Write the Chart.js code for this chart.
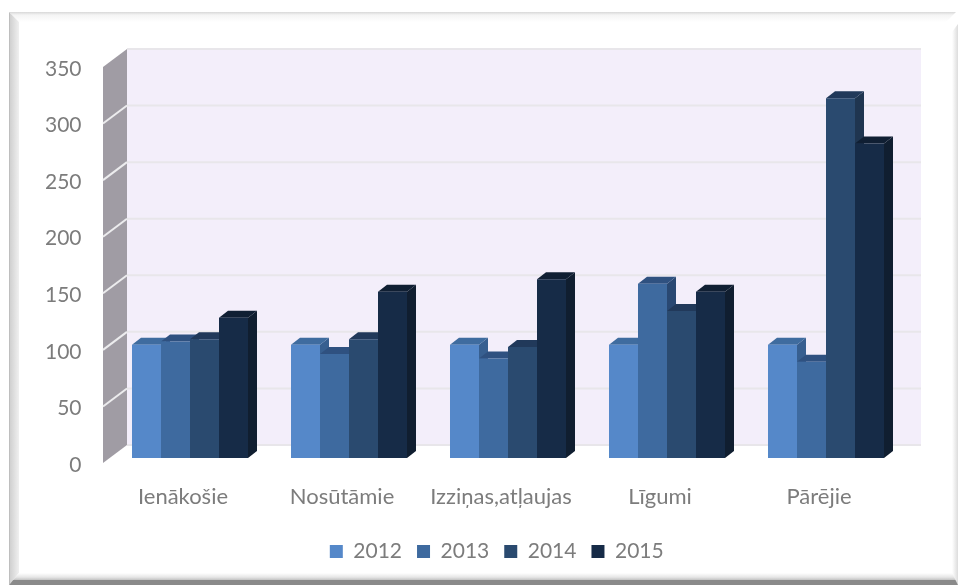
<!DOCTYPE html>
<html>
<head>
<meta charset="utf-8">
<title>Dokumenti</title>
<script src="https://cdn.jsdelivr.net/npm/chart.js@4"></script>
<style>
  html, body { margin: 0; padding: 0; background: #fff; }
  #wrap { position: relative; width: 958px; height: 585px; overflow: hidden; }
  #wrap canvas { position: absolute; left: 0; top: 0; filter: blur(0.7px); }
  .edge { position: absolute; }
  .top { left: 9px; right: 2px; top: 12px; height: 10px; background: linear-gradient(#d8d8d8, #f4f4f4 30%, #fff); clip-path: polygon(0 0, 100% 0, calc(100% - 10px) 100%, 10px 100%); }
  .left { left: 9px; top: 12px; bottom: 0; width: 10px; background: linear-gradient(90deg, #b4b4b4, #d2d2d2 15%, #f0f0f0); clip-path: polygon(0 0, 100% 10px, 100% calc(100% - 12px), 0 100%); }
  .right { right: 0; top: 24px; bottom: 0; width: 6px; background: linear-gradient(90deg, #fff, #eaeaea 60%, #dcdcdc); clip-path: polygon(0 8px, 100% 0, 100% 100%, 0 calc(100% - 10px)); }
  .bottom { left: 9px; right: 0; bottom: 0; height: 12px; background: linear-gradient(#fff, #e6e6e6 35%, #c8c8c8 55%, #8a8a8a 58%, #8a8a8a); clip-path: polygon(10px 0, calc(100% - 6px) 0, 100% 100%, 0 100%); }
</style>
</head>
<body>
<div id="wrap">
  <div class="edge top"></div>
  <div class="edge left"></div>
  <div class="edge right"></div>
  <div class="edge bottom"></div>
  <canvas id="chart" width="958" height="585"></canvas>
</div>
<script>
const categories = ['Ienākošie', 'Nosūtāmie', 'Izziņas,atļaujas', 'Līgumi', 'Pārējie'];
const years = ['2012', '2013', '2014', '2015'];
const values2012 = [100, 100, 100, 100, 100];
const values2013 = [103, 92, 88, 154, 85];
const values2014 = [105, 105, 98, 130, 318];
const values2015 = [124, 147, 158, 147, 278];

const frontColors = ['#5588c9', '#3e6a9f', '#2a4a6f', '#162b47'];
const topColors = ['#3f6c9f', '#2f5180', '#21395a', '#101f33'];
const sideColors = ['#375f90', '#294872', '#1f3550', '#101e30'];
const textColor = '#7c7c7c';
const fontFamily = 'Lato, "Open Sans", sans-serif';

// depth of the fake 3d box, px
const barDepthX = 9;
const barDepthY = 7;
const wallBackX = 16.5;
const wallBackY = 13;
const wallFrontX = -7.5;
const wallFrontY = 5;
const wallRightX = 15.5;
const legendShift = 24;

function poly(ctx, color, pts) {
  ctx.fillStyle = color;
  ctx.beginPath();
  pts.forEach(([x, y], i) => (i ? ctx.lineTo(x, y) : ctx.moveTo(x, y)));
  ctx.closePath();
  ctx.fill();
}

const box3d = {
  id: 'box3d',
  afterLayout(chart) {
    chart.legend.left += legendShift;
    chart.legend.right += legendShift;
  },
  beforeDatasetsDraw(chart) {
    const { ctx, chartArea: area, scales: { y } } = chart;
    const backL = area.left + wallBackX;
    const backR = area.right + wallRightX;
    const frontL = area.left + wallFrontX;
    const top = y.getPixelForValue(y.max);
    const bottom = y.getPixelForValue(0);

    // back wall
    poly(ctx, '#f3eefa', [[backL, top - wallBackY], [backR, top - wallBackY], [backR, bottom - wallBackY], [backL, bottom - wallBackY]]);
    // side wall
    poly(ctx, '#a09ca4', [[backL, top - wallBackY], [backL, bottom - wallBackY], [frontL, bottom + wallFrontY], [frontL, top + wallFrontY]]);

    ctx.lineWidth = 2;
    y.ticks.forEach(t => {
      const py = y.getPixelForValue(t.value);
      ctx.strokeStyle = '#e8e6ea';
      ctx.beginPath();
      ctx.moveTo(backL, py - wallBackY);
      ctx.lineTo(backR, py - wallBackY);
      ctx.stroke();
      if (t.value === 0 || t.value === y.max) return;
      ctx.strokeStyle = '#ececee';
      ctx.beginPath();
      ctx.moveTo(backL, py - wallBackY);
      ctx.lineTo(frontL, py + wallFrontY);
      ctx.stroke();
    });

    // sides and tops go under all the front faces, left series first
    chart.data.datasets.forEach((ds, i) => {
      chart.getDatasetMeta(i).data.forEach(bar => {
        const l = bar.x - bar.width / 2;
        const r = bar.x + bar.width / 2;
        poly(ctx, sideColors[i], [[r, bar.y], [r + barDepthX, bar.y - barDepthY], [r + barDepthX, bar.base - barDepthY], [r, bar.base]]);
        poly(ctx, topColors[i], [[l, bar.y], [l + barDepthX, bar.y - barDepthY], [r + barDepthX, bar.y - barDepthY], [r, bar.y]]);
      });
    });
  }
};

new Chart(document.getElementById('chart'), {
  type: 'bar',
  plugins: [box3d],
  data: {
    labels: categories,
    datasets: [values2012, values2013, values2014, values2015].map((data, i) => ({
      label: years[i],
      data,
      backgroundColor: frontColors[i],
      borderWidth: 0,
      categoryPercentage: 0.7296,
      barPercentage: 1
    }))
  },
  options: {
    responsive: false,
    animation: false,
    devicePixelRatio: 1,
    layout: { padding: { left: 40, right: 52.5, top: 62, bottom: 13 } },
    plugins: {
      tooltip: { enabled: false },
      legend: {
        position: 'bottom',
        labels: {
          color: textColor,
          boxWidth: 13,
          boxHeight: 13,
          padding: 15,
          font: { family: fontFamily, size: 21 }
        }
      }
    },
    scales: {
      x: {
        grid: { display: false },
        border: { display: false },
        ticks: {
          color: textColor,
          font: { family: fontFamily, size: 22 },
          labelOffset: -7,
          padding: 18,
          maxRotation: 0,
          autoSkip: false
        },
        afterFit(scale) {
          scale.height = 585 - 13 - scale.chart.legend.height - 458;
        }
      },
      y: {
        min: 0,
        max: 350,
        grid: { display: false, drawTicks: false },
        border: { display: false },
        ticks: {
          stepSize: 50,
          color: textColor,
          font: { family: fontFamily, size: 21 },
          labelOffset: 7,
          padding: 29
        },
        afterFit(scale) {
          scale.width = 70.5;
        }
      }
    }
  }
});
</script>
</body>
</html>
